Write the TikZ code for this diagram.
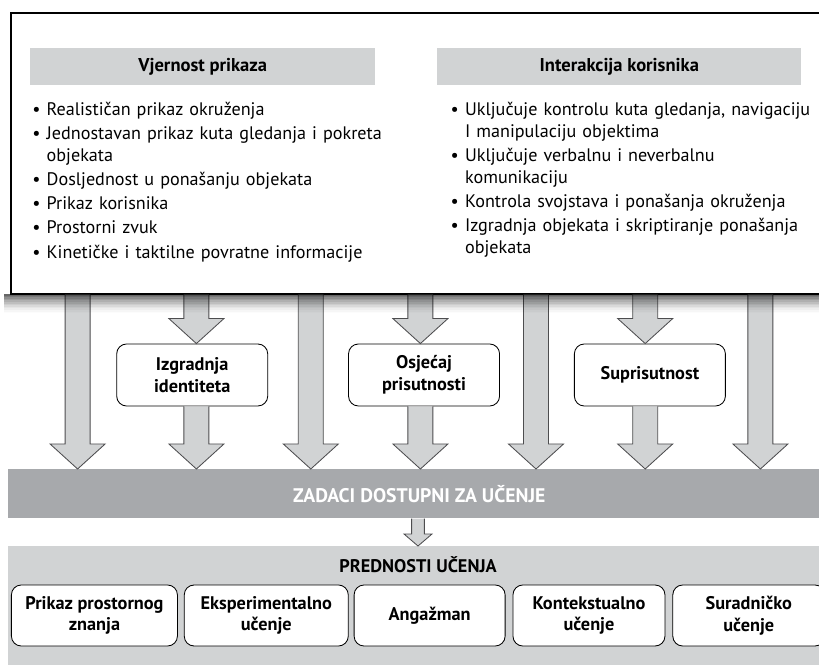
\documentclass[tikz,border=0pt]{standalone}
\usepackage{fontspec}
\setmainfont{PT Sans}
\usetikzlibrary{positioning,calc}

\definecolor{panelgray}{HTML}{D1D3D4}
\definecolor{bargray}{HTML}{A7A9AC}
\definecolor{edgegray}{HTML}{4D4D4F}

\tikzset{
  topbox/.style={draw=black, line width=1.2pt, fill=white, anchor=north west,
    minimum width=20.5cm, minimum height=7.025cm, inner sep=0pt},
  header/.style={fill=panelgray, anchor=north west, minimum height=0.925cm,
    minimum width=#1, inner sep=0pt, font=\bfseries\fontsize{13.2}{15}\selectfont},
  bulletlist/.style={anchor=north west, inner sep=0pt, text width=#1, align=left,
    font=\fontsize{12.9}{15.6}\selectfont},
  roundbox/.style={draw=black, line width=0.6pt, fill=white, rounded corners=7pt,
    minimum width=#1, minimum height=1.55cm, align=center, inner sep=0pt,
    font=\bfseries\fontsize{13}{15.5}\selectfont},
  blockarrow/.style={fill=panelgray, draw=edgegray, line width=0.6pt, line join=miter},
}

% bullet item with hanging indent
\newcommand{\bitem}[1]{\par\hangindent=0.36cm\hangafter=1\noindent\makebox[0.36cm][l]{\textbullet}#1}
% block arrow: start, end, shaft half width, head half width, head length
\newcommand{\blockarrow}[5]{%
  \filldraw[blockarrow] let \p1=(#1), \p2=(#2) in
    (\x1-#3,\y1) -- (\x1-#3,\y2+#5) -- (\x1-#4,\y2+#5) -- (\x1,\y2)
    -- (\x1+#4,\y2+#5) -- (\x1+#3,\y2+#5) -- (\x1+#3,\y1);}

\begin{document}
\begin{tikzpicture}
\useasboundingbox (0,0) rectangle (20.475,16.6);

% arrow positions
\foreach \k/\x in {1/1.94,2/4.91,3/7.77,4/10.51,5/13.40,6/16.13,7/19.01}
  \coordinate (a\k) at (\x,0);
\coordinate (a8) at (10.45,0);

% Top frame
\node[topbox] (top) at (0.25,16.3) {};
\node[header=8.625cm] (hdrL) at (0.75,15.4) {Vjernost prikaza};
\node[header=9.1cm] (hdrR) at (10.925,15.4) {Interakcija korisnika};

\node[bulletlist=9.8cm] (listL) at (0.8,14.33) {\setlength{\parskip}{1.6pt}%
  \bitem{Realističan prikaz okruženja}
  \bitem{Jednostavan prikaz kuta gledanja i pokreta\newline objekata}
  \bitem{Dosljednost u ponašanju objekata}
  \bitem{Prikaz korisnika}
  \bitem{Prostorni zvuk}
  \bitem{Kinetičke i taktilne povratne informacije}\par};
\node[bulletlist=9.8cm] (listR) at (11.26,14.33) {\setlength{\parskip}{1.6pt}%
  \bitem{Uključuje kontrolu kuta gledanja, navigaciju\newline I manipulaciju objektima}
  \bitem{Uključuje verbalnu i neverbalnu\newline komunikaciju}
  \bitem{Kontrola svojstava i ponašanja okruženja}
  \bitem{Izgradnja objekata i skriptiranje ponašanja\newline objekata}\par};

% Middle boxes
\node[roundbox=3.775cm] (idn) at (4.805,7.225) {Izgradnja\\identiteta};
\node[roundbox=3.775cm, right=2cm of idn] (pres) {Osjećaj\\prisutnosti};
\node[roundbox=3.775cm, right=1.85cm of pres] (copres) {Suprisutnost};

% Tasks bar
\node[fill=bargray, anchor=north west, minimum width=20.55cm, minimum height=1.225cm,
  inner sep=0pt, text=white, font=\bfseries\fontsize{14}{16}\selectfont] (tasks)
  at (0.2,4.875) {ZADACI DOSTUPNI ZA UČENJE};

% Benefits panel
\node[fill=panelgray, anchor=north west, minimum width=20.55cm, minimum height=3cm,
  inner sep=0pt] (benefits) at (0.2,2.95) {};
\node[font=\bfseries\fontsize{13}{15}\selectfont] (benTitle) at (10.45,2.475) {PREDNOSTI UČENJA};
\node[roundbox=4.15cm, minimum height=1.525cm, anchor=west] (b1) at (0.275,1.2125) {Prikaz prostornog\\znanja};
\node[roundbox=4.1cm, minimum height=1.525cm, right=0.15cm of b1] (b2) {Eksperimentalno\\učenje};
\node[roundbox=3.775cm, minimum height=1.525cm, right=0.125cm of b2] (b3) {Angažman};
\node[roundbox=3.8cm, minimum height=1.525cm, right=0.175cm of b3] (b4) {Kontekstualno\\učenje};
\node[roundbox=3.8cm, minimum height=1.525cm, right=0.175cm of b4] (b5) {Suradničko\\učenje};

% Arrows
\foreach \k in {1,3,5,7}{
  \blockarrow{top.south -| a\k}{tasks.north -| a\k}{0.3125cm}{0.6875cm}{0.625cm}
}
\blockarrow{top.south -| a2}{idn.north -| a2}{0.3125cm}{0.6875cm}{0.625cm}
\blockarrow{idn.south -| a2}{tasks.north -| a2}{0.3125cm}{0.6875cm}{0.625cm}
\blockarrow{top.south -| a4}{pres.north -| a4}{0.3125cm}{0.6875cm}{0.625cm}
\blockarrow{pres.south -| a4}{tasks.north -| a4}{0.3125cm}{0.6875cm}{0.625cm}
\blockarrow{top.south -| a6}{copres.north -| a6}{0.3125cm}{0.6875cm}{0.625cm}
\blockarrow{copres.south -| a6}{tasks.north -| a6}{0.3125cm}{0.6875cm}{0.625cm}
\blockarrow{tasks.south -| a8}{benefits.north -| a8}{0.16cm}{0.35cm}{0.3cm}

% Shadow under the frame
\foreach \i [evaluate=\i as \op using {0.6*(1-\i/12)^1.6}] in {0,...,11}
  \fill[black, opacity=\op] (0.1,9.25-\i*0.04) rectangle (20.75,9.21-\i*0.04);
\end{tikzpicture}
\end{document}
